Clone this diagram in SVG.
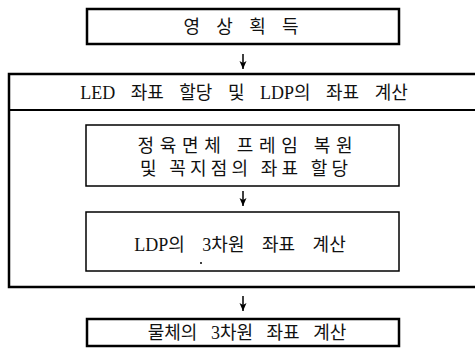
<svg xmlns="http://www.w3.org/2000/svg" width="475" height="354" viewBox="0 0 475 354">
<defs>
<marker id="ah" viewBox="0 0 8 8" refX="8" refY="4" markerWidth="8" markerHeight="8" markerUnits="userSpaceOnUse" orient="auto">
<path d="M0,0.5 L8,4 L0,7.5 L2,4 Z" fill="#000"/>
</marker>
</defs>
<style>
.thick{fill:#fff;stroke:#000;stroke-width:2.5}
.thin{fill:#fff;stroke:#000;stroke-width:1.5}
text{font-family:"Liberation Serif","Noto Sans CJK KR",serif;font-size:18px;fill:#111;text-anchor:middle}
.conn{stroke:#000;stroke-width:1.5;fill:none}
</style>
<rect x="0" y="0" width="475" height="354" fill="#fff"/>
<g id="n1">
<rect class="thick" x="87" y="9" width="312" height="35"/>
<text x="241" y="33" textLength="115" lengthAdjust="spacing">영 상 획 득</text>
</g>
<g id="n2">
<path class="thick" d="M478,74 L9,74 L9,287 L478,287"/>
<line x1="9" y1="110" x2="478" y2="110" stroke="#000" stroke-width="2"/>
<text x="244" y="99" word-spacing="11">LED 좌표 할당 및 LDP의 좌표 계산</text>
</g>
<g id="n3">
<rect class="thin" x="86" y="125" width="313" height="61"/>
<text x="245" y="152" textLength="215" lengthAdjust="spacing">정육면체 프레임 복원</text>
<text x="244" y="175" textLength="208" lengthAdjust="spacing">및 꼭지점의 좌표 할당</text>
</g>
<g id="n4">
<rect class="thin" x="86" y="212" width="313" height="59"/>
<text x="240" y="251" word-spacing="13">LDP의 3차원 좌표 계산</text>
<circle cx="201" cy="263" r="1" fill="#000"/>
</g>
<g id="n5">
<rect class="thick" x="87" y="319" width="312" height="27"/>
<text x="247" y="339" word-spacing="9">물체의 3차원 좌표 계산</text>
</g>
<g id="connectors">
<line class="conn" x1="243" y1="54" x2="243" y2="69" marker-end="url(#ah)"/>
<line class="conn" x1="243" y1="191" x2="243" y2="206" marker-end="url(#ah)"/>
<line class="conn" x1="243" y1="296" x2="243" y2="311" marker-end="url(#ah)"/>
</g>
</svg>
